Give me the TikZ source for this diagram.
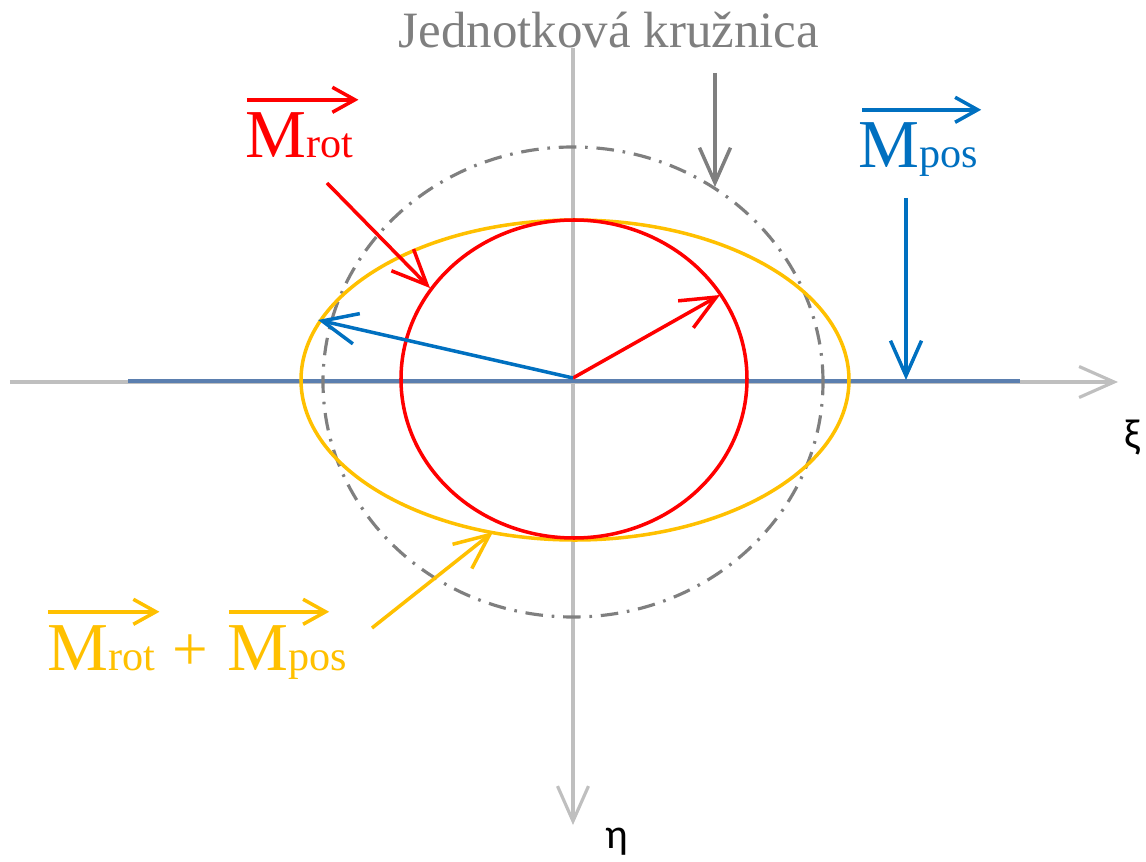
\documentclass[tikz,border=0pt]{standalone}
\usepackage{fontspec}
\setmainfont{Liberation Serif}
\newfontfamily\axisfont{Carlito}
\usetikzlibrary{arrows.meta}
\definecolor{axisgray}{HTML}{BFBFBF}
\definecolor{unitgray}{HTML}{7F7F7F}
\definecolor{rotred}{HTML}{FF0000}
\definecolor{posblue}{HTML}{0070C0}
\definecolor{sumgold}{HTML}{FFC000}
\definecolor{lineblue}{HTML}{5B7FAF}
\newcommand{\Msub}[1]{{\fontsize{39}{44}\selectfont M}{\fontsize{24}{28}\selectfont #1}}

\begin{document}
\begin{tikzpicture}[x=0.02cm,y=0.02cm,>={Straight Barb[length=0.7cm,width=0.62cm]},
  axis/.style={draw=axisgray,line width=1.8pt,->},
  pointer/.style={line width=2pt,->},
  over/.style={line width=2pt,-{Straight Barb[length=0.45cm,width=0.5cm]}},
  lbl/.style={inner sep=0pt,anchor=base west}]
  \useasboundingbox (-573,381) rectangle (573,-481);
  % axes
  \coordinate (O) at (0,3);
  \coordinate (xi0) at (-563,-1);
  \coordinate (xi1) at (545,-1);
  \coordinate (eta0) at (0,333);
  \coordinate (eta1) at (0,-444);
  \draw[axis] (xi0) -- (xi1);
  \draw[axis] (eta0) -- (eta1);
  \node[lbl,font=\axisfont\fontsize{24}{28}\selectfont] (xi) at (551,-67) {ξ};
  \node[lbl,font=\axisfont\fontsize{24}{28}\selectfont] (eta) at (32,-467) {η};
  \coordinate (line0) at (-445,0);
  \coordinate (line1) at (447,0);
  \draw[lineblue,line width=2.4pt] (line0) -- (line1);
  % curves
  \draw[unitgray,line width=1.8pt,dash pattern=on 10pt off 5pt on 1.5pt off 5pt] (0,-1) ellipse [x radius=250,y radius=235];
  \draw[sumgold,line width=2pt] (2,1) ellipse [x radius=274,y radius=160];
  \draw[rotred,line width=2pt] (1,2) ellipse [x radius=173,y radius=159];
  % vectors
  \coordinate (rottip) at (147,86);
  \coordinate (sumtip) at (-255,61);
  \draw[pointer,rotred] (O) -- (rottip);
  \draw[pointer,posblue] (O) -- (sumtip);
  % labels
  \node[inner sep=0pt,anchor=base,text=unitgray,font=\fontsize{29}{34}\selectfont] (unit) at (36,333) {Jednotková kružnica};
  \coordinate (unit0) at (142,308);
  \coordinate (unit1) at (142,194);
  \draw[pointer,unitgray] (unit0) -- (unit1);

  \node[lbl,text=rotred] (rotlbl) at (-328,223) {\Msub{rot}};
  \draw[over,rotred] ([shift={(2,13)}]rotlbl.north west) -- ([shift={(5,13)}]rotlbl.north east);
  \coordinate (rot0) at (-246,198);
  \coordinate (rot1) at (-143,93);
  \draw[pointer,rotred] (rot0) -- (rot1);

  \node[lbl,text=posblue] (poslbl) at (285,213) {\Msub{pos}};
  \draw[over,posblue] ([shift={(4,13)}]poslbl.north west) -- ([shift={(3,13)}]poslbl.north east);
  \coordinate (pos0) at (333,183);
  \coordinate (pos1) at (333,1);
  \draw[pointer,posblue] (pos0) -- (pos1);

  \node[lbl,text=sumgold] (sumrot) at (-526,-289) {\Msub{rot}};
  \node[inner sep=0pt,anchor=base,text=sumgold,font=\fontsize{36}{40}\selectfont] (plus) at (-383,-289) {+};
  \node[lbl,text=sumgold] (sumpos) at (-346,-289) {\Msub{pos}};
  \draw[over,sumgold] ([shift={(1,13)}]sumrot.north west) -- ([shift={(4,13)}]sumrot.north east);
  \draw[over,sumgold] ([shift={(2,13)}]sumpos.north west) -- ([shift={(-18,13)}]sumpos.north east);
  \coordinate (sum0) at (-201,-247);
  \coordinate (sum1) at (-80,-151);
  \draw[pointer,sumgold] (sum0) -- (sum1);
\end{tikzpicture}
\end{document}
